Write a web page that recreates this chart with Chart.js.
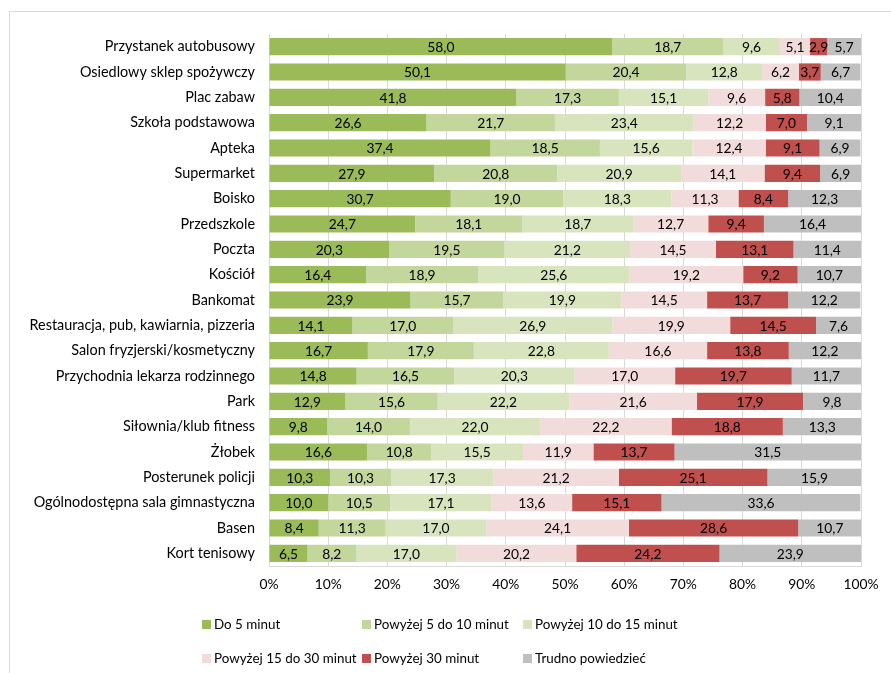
<!DOCTYPE html>
<html>
<head>
<meta charset="utf-8">
<script src="https://cdn.jsdelivr.net/npm/chart.js@4"></script>
<style>
  body { margin: 0; background: #fff; overflow: hidden; }
  #wrap { position: relative; width: 891px; height: 673px; }
  #frame { position: absolute; left: 9px; top: 11px; width: 1000px; height: 1000px; border: 1px solid #d9d9d9; }
  #c { position: absolute; left: 0; top: 0; }
  #legend { position: absolute; left: 202px; top: 615px; font-family: Lato, sans-serif; font-size: 13.4px; color: #000; }
  .item { position: absolute; white-space: nowrap; line-height: 18px; }
  .item i { display: inline-block; width: 9px; height: 9px; margin-right: 3px; vertical-align: 0px; }
</style>
</head>
<body>
<div id="wrap">
  <div id="frame"></div>
  <canvas id="c" width="891" height="673"></canvas>
  <div id="legend"></div>
</div>
<script>
const categories = [
  'Przystanek autobusowy', 'Osiedlowy sklep spożywczy', 'Plac zabaw', 'Szkoła podstawowa',
  'Apteka', 'Supermarket', 'Boisko', 'Przedszkole', 'Poczta', 'Kościół', 'Bankomat',
  'Restauracja, pub, kawiarnia, pizzeria', 'Salon fryzjerski/kosmetyczny',
  'Przychodnia lekarza rodzinnego', 'Park', 'Siłownia/klub fitness', 'Żłobek',
  'Posterunek policji', 'Ogólnodostępna sala gimnastyczna', 'Basen', 'Kort tenisowy',
];
const seriesNames = [
  'Do 5 minut', 'Powyżej 5 do 10 minut', 'Powyżej 10 do 15 minut',
  'Powyżej 15 do 30 minut', 'Powyżej 30 minut', 'Trudno powiedzieć',
];
const upTo5 = [58.0, 50.1, 41.8, 26.6, 37.4, 27.9, 30.7, 24.7, 20.3, 16.4, 23.9, 14.1, 16.7, 14.8, 12.9, 9.8, 16.6, 10.3, 10.0, 8.4, 6.5];
const from5to10 = [18.7, 20.4, 17.3, 21.7, 18.5, 20.8, 19.0, 18.1, 19.5, 18.9, 15.7, 17.0, 17.9, 16.5, 15.6, 14.0, 10.8, 10.3, 10.5, 11.3, 8.2];
const from10to15 = [9.6, 12.8, 15.1, 23.4, 15.6, 20.9, 18.3, 18.7, 21.2, 25.6, 19.9, 26.9, 22.8, 20.3, 22.2, 22.0, 15.5, 17.3, 17.1, 17.0, 17.0];
const from15to30 = [5.1, 6.2, 9.6, 12.2, 12.4, 14.1, 11.3, 12.7, 14.5, 19.2, 14.5, 19.9, 16.6, 17.0, 21.6, 22.2, 11.9, 21.2, 13.6, 24.1, 20.2];
const over30 = [2.9, 3.7, 5.8, 7.0, 9.1, 9.4, 8.4, 9.4, 13.1, 9.2, 13.7, 14.5, 13.8, 19.7, 17.9, 18.8, 13.7, 25.1, 15.1, 28.6, 24.2];
const hardToSay = [5.7, 6.7, 10.4, 9.1, 6.9, 6.9, 12.3, 16.4, 11.4, 10.7, 12.2, 7.6, 12.2, 11.7, 9.8, 13.3, 31.5, 15.9, 33.6, 10.7, 23.9];
const xTicks = [0, 10, 20, 30, 40, 50, 60, 70, 80, 90, 100];

const colors = ['#9BBB59', '#C3D69B', '#D7E4BD', '#F2DCDB', '#C0504D', '#BFBFBF'];
const values = [upTo5, from5to10, from10to15, from15to30, over30, hardToSay];
const FONT = 'Lato, sans-serif';

Chart.defaults.font.family = FONT;
Chart.defaults.font.size = 13.5;
Chart.defaults.color = '#000';

// etykiety wartosci w srodku segmentow
const barLabels = {
  id: 'barLabels',
  afterDatasetsDraw(chart) {
    const { ctx } = chart;
    ctx.save();
    ctx.font = '13.8px ' + FONT;
    ctx.fillStyle = '#000';
    ctx.textAlign = 'center';
    ctx.textBaseline = 'middle';
    chart.data.datasets.forEach((ds, i) => {
      chart.getDatasetMeta(i).data.forEach((bar, j) => {
        const v = ds.data[j];
        ctx.fillText(v.toFixed(1).replace('.', ','), (bar.x + bar.base) / 2, bar.y + 1);
      });
    });
    ctx.restore();
  },
};

new Chart(document.getElementById('c'), {
  type: 'bar',
  data: {
    labels: categories,
    datasets: seriesNames.map((name, i) => ({
      label: name,
      data: values[i],
      backgroundColor: colors[i],
      borderWidth: 0,
      barPercentage: 0.68,
      categoryPercentage: 1,
    })),
  },
  options: {
    indexAxis: 'y',
    responsive: false,
    animation: false,
    layout: { padding: { left: 0, top: 34, right: 30, bottom: 77 } },
    scales: {
      x: {
        stacked: true,
        min: 0,
        max: 100,
        afterBuildTicks: (axis) => { axis.ticks = xTicks.map((v) => ({ value: v })); },
        afterFit: (axis) => { axis.height = 30; },
        ticks: { callback: (v) => v + '%', padding: 10, maxRotation: 0, font: { size: 13.8 } },
        grid: { color: '#d9d9d9', drawTicks: false },
        border: { color: '#d9d9d9' },
      },
      y: {
        stacked: true,
        afterFit: (axis) => { axis.width = 269; },
        ticks: { padding: 14, autoSkip: false, font: { size: 14.4 } },
        grid: { display: false, drawTicks: false },
        border: { color: '#d9d9d9' },
      },
    },
    plugins: { legend: { display: false }, tooltip: { enabled: false } },
  },
  plugins: [barLabels],
});

// legenda w trzech kolumnach
const legendPos = [[0, 0], [160, 0], [321, 0], [0, 34], [160, 34], [321, 34]];
const legend = document.getElementById('legend');
seriesNames.forEach((name, i) => {
  const el = document.createElement('div');
  el.className = 'item';
  el.style.left = legendPos[i][0] + 'px';
  el.style.top = legendPos[i][1] + 'px';
  el.innerHTML = '<i style="background:' + colors[i] + '"></i>' + name;
  legend.appendChild(el);
});
</script>
</body>
</html>
